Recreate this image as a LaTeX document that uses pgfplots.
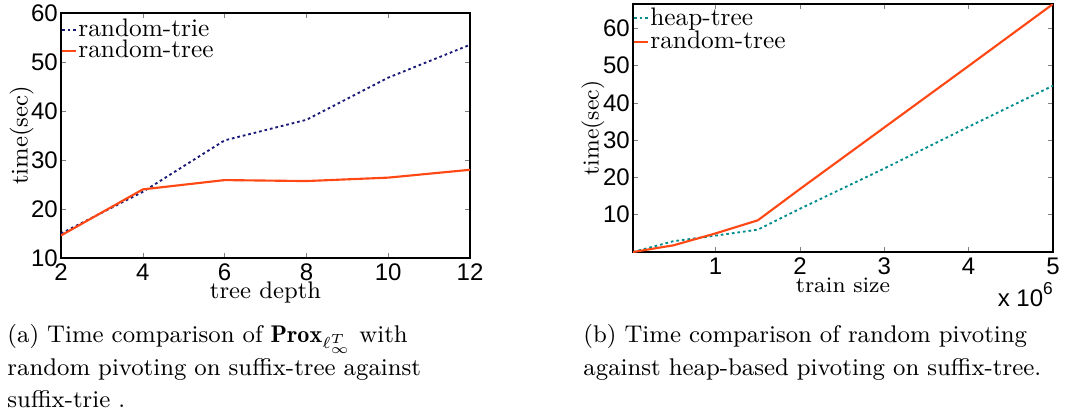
\documentclass[border=0pt]{standalone}
\usepackage{fontspec}
\usepackage{pgfplots}
\pgfplotsset{compat=1.18}
\newfontfamily\arial{Liberation Sans}
\definecolor{navy}{RGB}{25,25,120}
\definecolor{orng}{RGB}{255,72,20}
\definecolor{teal2}{RGB}{0,140,140}
\pgfplotsset{
  common/.style={
    scale only axis,
    anchor=south west,
    tick align=inside,
    tick pos=both,
    major tick length=1.8pt,
    axis line style={line width=0.6pt},
    /pgf/number format/assume math mode=true,
    tick label style={font=\arial\fontsize{9}{10}\selectfont},
    xticklabel style={inner sep=1pt, yshift=-1pt},
    yticklabel style={inner sep=1pt},
    label style={font=\fontsize{9}{10}\selectfont},
    legend style={draw=none, fill=none, at={(0,1)}, anchor=north west,
      inner sep=0pt, outer sep=0pt, font=\fontsize{9.5}{10}\selectfont,
      cells={anchor=west}, nodes={inner sep=0.4pt}},
    legend image code/.code={\draw[#1] (0pt,0pt) -- (5.3pt,0pt);},
  }
}
\begin{document}
\begin{tikzpicture}
\path[use as bounding box] (0pt,0pt) rectangle (399.75pt,-153.75pt);
\begin{axis}[common,
  at={(22.875pt,-96.75pt)}, width=153.4pt, height=91.9pt,
  xmin=2, xmax=12, ymin=10, ymax=60,
  xtick={2,4,6,8,10,12}, ytick={10,20,30,40,50,60},
  xlabel={tree depth}, ylabel={time(sec)},
  xlabel style={yshift=4pt},
  ylabel style={yshift=-5.5pt},
  legend style={yshift=-2pt, xshift=0pt, row sep=-1pt},
]
\addplot[navy, line width=0.7pt, dash pattern=on 1pt off 1.1pt] coordinates {
  (2,15.0) (4,23.5) (6,34.0) (8,38.2) (10,46.8) (12,53.5)};
\addlegendentry{random-trie}
\addplot[orng, line width=0.8pt] coordinates {
  (2,14.6) (4,24.0) (6,25.9) (8,25.7) (10,26.4) (12,28.0)};
\addlegendentry{random-tree}
\end{axis}
\begin{axis}[common,
  at={(237.375pt,-94.5pt)}, width=157.5pt, height=93pt,
  xmin=0.02, xmax=5, ymin=0, ymax=66.5,
  xtick={1,2,3,4,5}, ytick={10,20,30,40,50,60},
  xlabel={train size}, ylabel={time(sec)},
  xlabel style={yshift=3.5pt, font=\fontsize{8.3}{9}\selectfont},
  ylabel style={yshift=-5pt, font=\fontsize{8.6}{9}\selectfont},
  legend style={yshift=-0.9pt, xshift=0pt, row sep=-0.1pt},
]
\addplot[teal2, line width=0.7pt, dash pattern=on 1pt off 1.1pt] coordinates {
  (0.02,0) (0.5,2.9) (1.0,4.4) (1.5,6.0) (2,11.6) (3,22.4) (4,33.6) (5,44.6)};
\addlegendentry{heap-tree}
\addplot[orng, line width=0.8pt] coordinates {
  (0.02,0) (0.5,1.8) (1.0,5.0) (1.5,8.5) (2,16.9) (3,33.4) (4,49.9) (5,66.5)};
\addlegendentry{random-tree}
\end{axis}
\node[anchor=east, font=\arial\fontsize{9}{10}\selectfont, inner sep=0pt]
  at (395pt,-110.5pt) {x 10\raisebox{0.9ex}{\fontsize{6.5}{7}\selectfont 6}};
\node[anchor=north west, align=left, font=\fontsize{9.05}{12.2}\selectfont, inner sep=0pt, text width=180pt]
  at (2.6pt,-121.5pt) {(a) Time comparison of $\mathbf{Prox}_{\ell_\infty^T}$ with\\random pivoting on suffix-tree against\\suffix-trie .};
\node[anchor=north west, align=left, font=\fontsize{9.05}{12.2}\selectfont, inner sep=0pt, text width=180pt]
  at (218.6pt,-121.5pt) {(b) Time comparison of random pivoting\\against heap-based pivoting on suffix-tree.};
\end{tikzpicture}
\end{document}
